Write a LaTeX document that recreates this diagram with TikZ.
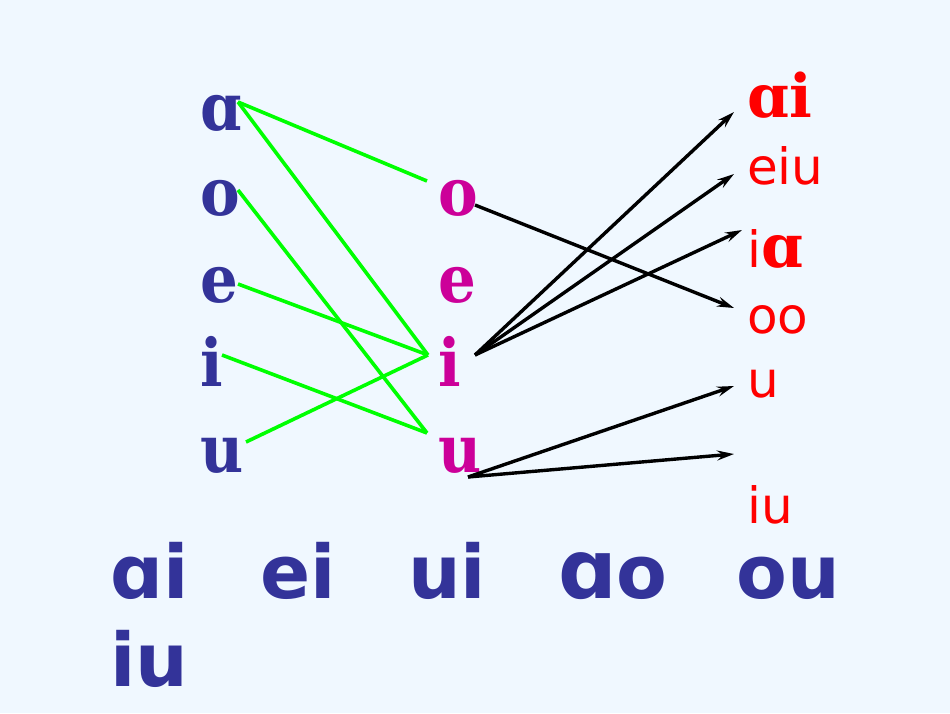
\documentclass[tikz,border=0pt]{standalone}
\usepackage{fontspec}
\setmainfont{DejaVu Sans}
\newfontfamily\slab{DejaVu Serif Condensed}
\newfontfamily\slabr{DejaVu Serif}
\usetikzlibrary{arrows.meta}
\definecolor{nen}{RGB}{240,248,255}
\definecolor{xanh}{RGB}{51,51,153}
\definecolor{tim}{RGB}{204,0,153}
\definecolor{xanhla}{RGB}{0,255,0}
\begin{document}
\begin{tikzpicture}[>={Stealth[length=17pt,width=10pt,inset=6pt]},x=1pt,y=-1pt,
  chu/.style={anchor=base west,inner sep=0pt,font=\slab\bfseries\fontsize{66}{66}\selectfont},
  van/.style={anchor=base west,inner sep=0pt,text=red,font=\fontsize{50}{50}\selectfont},
  dong/.style={anchor=base west,inner sep=0pt,text=xanh,font=\bfseries\fontsize{74}{74}\selectfont},
  noi/.style={xanhla,line width=3.6pt},
  mui/.style={->,black,line width=3.4pt}]
\fill[nen] (0,0) rectangle (950,713);
\useasboundingbox (0,0) rectangle (950,713);
% cot trai
\node[chu,text=xanh] (la) at (200,130) {ɑ};
\node[chu,text=xanh] (lo) at (200,215) {o};
\node[chu,text=xanh] (le) at (200,302) {e};
\node[chu,text=xanh] (li) at (200,386) {i};
\node[chu,text=xanh] (lu) at (200,472) {u};
% cot giua
\node[chu,text=tim] (mo) at (438,215) {o};
\node[chu,text=tim] (me) at (438,302) {e};
\node[chu,text=tim] (mi) at (438,386) {i};
\node[chu,text=tim] (mu) at (438,472) {u};
% cot phai
\node[van,font=\slabr\bfseries\fontsize{60}{60}\selectfont] (rai) at (747,117) {ɑi};
\node[van] (reiu) at (747,184) {eiu};
\node[van] (ria) at (747,267) {i{\slabr\bfseries\fontsize{60}{60}\selectfont ɑ}};
\node[van] (roo) at (747,333) {oo};
\node[van] (ru) at (747,397) {u};
\node[van] (riu) at (747,523) {iu};
% hang duoi
\node[dong] (ai) at (110,598) {ɑi};
\node[dong] (ei) at (260,598) {ei};
\node[dong] (ui) at (408,598) {ui};
\node[dong] (ao) at (558,598) {{\fontsize{82}{82}\selectfont ɑ}o};
\node[dong] (ou) at (736,598) {ou};
\node[dong] (iu) at (110,686) {iu};

\draw[noi] ([xshift=38,yshift=28]la.base west) -- ([xshift=-11,yshift=34]mo.base west);
\draw[noi] ([xshift=38,yshift=28]la.base west) -- ([xshift=-10,yshift=31]mi.base west);
\draw[noi] ([xshift=38,yshift=25]lo.base west) -- ([xshift=-11,yshift=39]mu.base west);
\draw[noi] ([xshift=38,yshift=18]le.base west) -- ([xshift=-10,yshift=31]mi.base west);
\draw[noi] ([xshift=22,yshift=31]li.base west) -- ([xshift=-11,yshift=39]mu.base west);
\draw[noi] ([xshift=46,yshift=30]lu.base west) -- ([xshift=-10,yshift=31]mi.base west);

\draw[mui] ([xshift=37,yshift=10]mo.base west) -- ([xshift=-13,yshift=25]roo.base west);
\draw[mui] ([xshift=37,yshift=31]mi.base west) -- ([xshift=-13,yshift=5]rai.base west);
\draw[mui] ([xshift=37,yshift=31]mi.base west) -- ([xshift=-13,yshift=10]reiu.base west);
\draw[mui] ([xshift=37,yshift=31]mi.base west) -- ([xshift=-5,yshift=37]ria.base west);
\draw[mui] ([xshift=30,yshift=-5]mu.base west) -- ([xshift=-13,yshift=11]ru.base west);
\draw[mui] ([xshift=30,yshift=-5]mu.base west) -- ([xshift=-13,yshift=69]riu.base west);
\end{tikzpicture}
\end{document}
